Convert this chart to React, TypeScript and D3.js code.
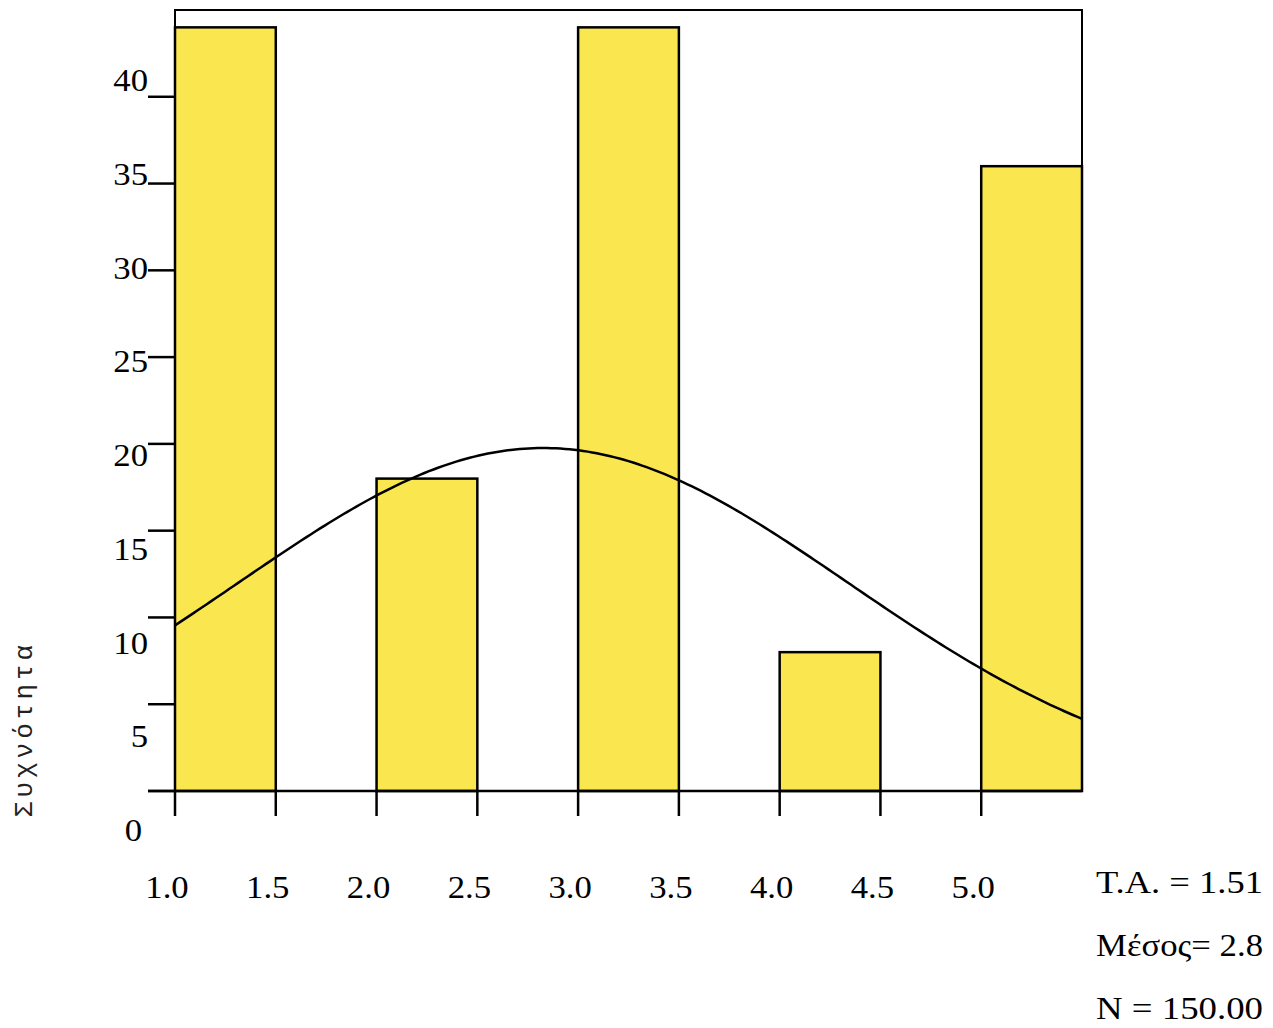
import React from "react";
import * as d3 from "d3";

const binStarts = [1.0, 2.0, 3.0, 4.0, 5.0];
const counts = [44, 18, 44, 8, 36];
const binWidth = 0.5;
const xTicks = [1.0, 1.5, 2.0, 2.5, 3.0, 3.5, 4.0, 4.5, 5.0];
const xTickLabels = ["1.0", "1.5", "2.0", "2.5", "3.0", "3.5", "4.0", "4.5", "5.0"];
const yTicks = [0, 5, 10, 15, 20, 25, 30, 35, 40];
const statMean = 2.8267;
const statSd = 1.514;
const statN = 150;
const statLabels = ["T.A. = 1.51", "Μέσος= 2.8", "N = 150.00"];
const yTitle = "Συχνότητα";

export default function App() {
  const W = 1273, H = 1028;
  const x = d3.scaleLinear().domain([1.0, 5.5]).range([175, 1082]);
  const y = d3.scaleLinear().domain([0, 45]).range([791, 10]);
  const yLab = d3.scaleLinear().domain([40, 0]).range([91, 841]);
  const fill = "#fae64f";
  const serif = "'Liberation Serif', 'Times New Roman', serif";

  const peak = (statN * binWidth) / (statSd * Math.sqrt(2 * Math.PI));
  const xs = d3.range(0, 201).map((i) => 1.0 + (4.5 * i) / 200);
  const curve = d3
    .line<number>()
    .x((v) => x(v))
    .y((v) => y(peak * Math.exp(-0.5 * ((v - statMean) / statSd) ** 2)))
    .curve(d3.curveLinear)(xs);

  return (
    <svg width={W} height={H} style={{ position: "absolute", left: 0, top: 0, background: "#fff" }}>
      <rect x={0} y={0} width={W} height={H} fill="#fff" />
      {binStarts.map((b, i) => (
        <rect
          key={i}
          x={x(b)}
          y={y(counts[i])}
          width={x(b + binWidth) - x(b)}
          height={y(0) - y(counts[i])}
          fill={fill}
          stroke="#000"
          strokeWidth={2.5}
        />
      ))}
      <rect x={x(1.0)} y={y(45)} width={x(5.5) - x(1.0)} height={y(0) - y(45)} fill="none" stroke="#000" strokeWidth={2} />
      <path d={curve || ""} fill="none" stroke="#000" strokeWidth={2.5} />
      {yTicks.map((t) => (
        <g key={t}>
          <line x1={148} x2={x(1.0)} y1={y(t)} y2={y(t)} stroke="#000" strokeWidth={2.5} />
          <text
            transform={`translate(${t === 0 ? 142 : 148},${yLab(t)}) scale(1.12,1)`}
            textAnchor="end"
            fontFamily={serif}
            fontSize={31}
            fill="#000"
          >
            {t}
          </text>
        </g>
      ))}
      <line x1={148} x2={1082} y1={y(0)} y2={y(0)} stroke="#000" strokeWidth={2.5} />
      {xTicks.map((t) => (
        <line key={t} x1={x(t)} x2={x(t)} y1={y(0)} y2={y(0) + 25} stroke="#000" strokeWidth={2.5} />
      ))}
      {xTickLabels.map((l, i) => (
        <text
          key={l}
          transform={`translate(${x(xTicks[i]) - 8},898) scale(1.12,1)`}
          textAnchor="middle"
          fontFamily={serif}
          fontSize={31}
          fill="#000"
        >
          {l}
        </text>
      ))}
      <text
        transform="translate(32,729) rotate(-90)"
        textAnchor="middle"
        fontFamily="'Liberation Mono', 'Courier New', monospace"
        fontSize={26}
        letterSpacing={4}
        fill="#222"
      >
        {yTitle}
      </text>
      {statLabels.map((s, i) => (
        <text
          key={s}
          x={1096}
          y={893 + i * 63}
          fontFamily={serif}
          fontSize={32}
          textLength={167}
          lengthAdjust="spacingAndGlyphs"
          fill="#000"
        >
          {s}
        </text>
      ))}
    </svg>
  );
}
